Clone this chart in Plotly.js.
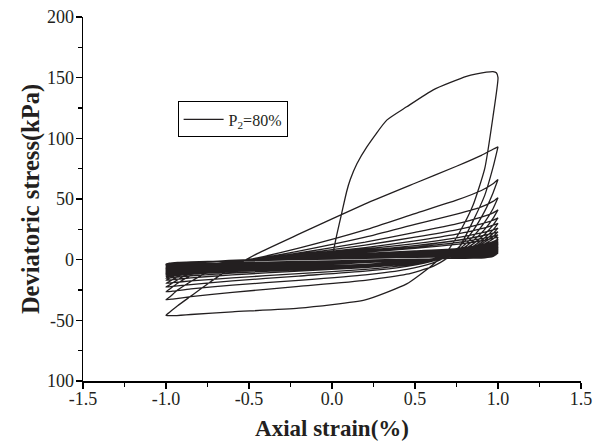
<!DOCTYPE html>
<html><head><meta charset="utf-8">
<script src="https://cdn.plot.ly/plotly-3.0.1.min.js"></script>
<style>html,body{margin:0;padding:0;background:#fff}#chart{width:600px;height:443px}</style>
</head><body><div id="chart"></div>
<script>
// Initial monotonic loading (strain %, stress kPa)
const initStrain = [0, 0.008, 0.028, 0.058, 0.088, 0.11, 0.15, 0.21, 0.33, 0.45, 0.61, 0.81, 0.93, 0.97, 0.99];
const initStress = [0, 6.6, 20, 38, 56, 66, 79, 93, 115, 126, 140, 151, 154.5, 155, 154];

// Strain points along each unloading (1 -> -1) and reloading (-1 -> 1) branch
const unloadStrain = [1.0, 0.97, 0.92, 0.85, 0.77, 0.7, 0.6, 0.45, 0.2, -0.2, -0.6, -0.85, -0.96, -1.0];
const reloadStrain = [-0.98, -0.93, -0.85, -0.75, -0.62, -0.45, -0.2, 0.2, 0.5, 0.75, 0.9, 0.97, 1.0];

// Stress on unloading branch, one row per cycle
const unloadStress = [
  [150, 118, 75, 45, 23, 8, -5, -20, -33.2, -40, -43, -45.2, -46.2, -45.8],
  [93, 76, 53, 32, 11, 1.5, -6, -12, -17, -22, -27, -30.5, -32.5, -33],
  [66, 55, 40, 24, 11, 3, -3, -8, -12.5, -17, -21, -24, -26, -26.5],
  [51, 42, 31, 19, 9, 3, -1.5, -5.5, -9.5, -13.5, -17.5, -20.5, -22, -22.5],
  [41, 34, 25, 15.5, 7.5, 2.5, -1, -4.5, -8, -11.5, -15, -17.5, -19, -19.5],
  [34.5, 28.5, 21, 13, 6.5, 2.5, -0.5, -3.5, -6.5, -9.5, -12.5, -15, -16.5, -17],
  [30, 24.5, 18, 11, 5.5, 2.5, 0, -2.8, -5.5, -8.3, -11, -13.3, -14.8, -15.3],
  [26, 21.5, 16, 10, 5, 2.5, 0.3, -2.2, -4.8, -7.3, -9.8, -12, -13.5, -14],
  [23, 19, 14.5, 9, 4.8, 2.4, 0.5, -1.8, -4.2, -6.5, -8.9, -11.1, -12.5, -13],
  [20.5, 17, 13, 8.3, 4.5, 2.3, 0.6, -1.5, -3.8, -6, -8.3, -10.4, -11.7, -12.2],
  [18.5, 10.6, 6.3, 3.6, 1.9, 1.0, 0.3, -0.7, -2.5, -5.3, -8.0, -9.8, -11.1, -11.5],
  [17, 9.8, 5.8, 3.4, 1.8, 1.0, 0.3, -0.7, -2.3, -5.0, -7.7, -9.4, -10.6, -11],
  [15.8, 9.1, 5.4, 3.2, 1.7, 1.0, 0.4, -0.6, -2.2, -4.8, -7.3, -8.9, -10.1, -10.5],
  [14.8, 8.6, 5.1, 3.1, 1.7, 1.0, 0.4, -0.5, -2.1, -4.5, -7.0, -8.5, -9.6, -10],
  [14, 7.5, 4.3, 2.3, 1.5, 1.0, 0.4, -0.5, -2.0, -4.3, -6.7, -8.2, -9.2, -9.6],
  [13.2, 7.1, 4.1, 2.2, 1.5, 1.0, 0.4, -0.4, -1.8, -4.1, -6.4, -7.8, -8.9, -9.2],
  [12.5, 6.8, 3.9, 2.2, 1.5, 1.0, 0.5, -0.4, -1.7, -3.9, -6.1, -7.5, -8.5, -8.8],
  [11.8, 6.4, 3.7, 2.1, 1.4, 1.0, 0.5, -0.3, -1.6, -3.7, -5.8, -7.1, -8.1, -8.4],
  [11.2, 6.1, 3.6, 2.0, 1.4, 1.0, 0.5, -0.3, -1.5, -3.6, -5.6, -6.9, -7.8, -8.1],
  [10.6, 5.8, 3.4, 2.0, 1.4, 1.0, 0.5, -0.2, -1.5, -3.4, -5.4, -6.6, -7.5, -7.8],
  [10.1, 5.1, 2.8, 1.7, 1.3, 1.0, 0.5, -0.2, -1.4, -3.3, -5.2, -6.4, -7.2, -7.5],
  [9.6, 4.9, 2.7, 1.7, 1.3, 1.0, 0.5, -0.1, -1.3, -3.1, -5.0, -6.1, -6.9, -7.2],
  [9.1, 4.6, 2.6, 1.6, 1.2, 1.0, 0.6, -0.1, -1.2, -3.0, -4.8, -5.9, -6.6, -6.9],
  [8.7, 4.5, 2.5, 1.6, 1.2, 1.0, 0.6, -0.1, -1.1, -2.8, -4.5, -5.6, -6.4, -6.6],
  [8.3, 4.3, 2.5, 1.6, 1.2, 1.0, 0.6, 0.0, -1.1, -2.7, -4.3, -5.4, -6.1, -6.3],
  [7.9, 4.1, 2.4, 1.6, 1.2, 1.0, 0.6, 0.0, -1.0, -2.5, -4.1, -5.1, -5.8, -6.0],
  [7.5, 3.9, 2.3, 1.5, 1.2, 1.0, 0.6, 0.1, -0.9, -2.4, -3.9, -4.9, -5.5, -5.7],
  [7.1, 3.4, 1.9, 1.4, 1.1, 1.0, 0.6, 0.1, -0.8, -2.2, -3.7, -4.6, -5.2, -5.4],
  [6.8, 3.3, 1.9, 1.3, 1.1, 1.0, 0.7, 0.1, -0.7, -2.1, -3.5, -4.3, -4.9, -5.1],
  [6.5, 3.2, 1.8, 1.3, 1.1, 1.0, 0.7, 0.2, -0.6, -2.0, -3.3, -4.1, -4.6, -4.8],
  [6.2, 3.1, 1.8, 1.3, 1.1, 1.0, 0.7, 0.2, -0.6, -1.8, -3.1, -3.8, -4.3, -4.5],
  [5.9, 3.0, 1.7, 1.3, 1.1, 1.0, 0.7, 0.3, -0.5, -1.7, -2.8, -3.6, -4.0, -4.2],
  [5.6, 2.8, 1.7, 1.3, 1.1, 1.0, 0.7, 0.3, -0.4, -1.6, -2.7, -3.4, -3.9, -4.0],
  [5.3, 2.7, 1.6, 1.3, 1.1, 1.0, 0.7, 0.3, -0.4, -1.5, -2.5, -3.2, -3.7, -3.8]
];

// Stress on reloading branch, one row per cycle
const reloadStress = [
  [-43.5, -38, -30, -20, -8, 5, 21, 46, 63, 77, 86, 91, 93],
  [-31, -25, -18, -10, -3, 1.5, 9.5, 24.5, 38, 49, 57, 62.5, 66],
  [-24.5, -19.5, -13, -7, -2, 1, 7, 18.5, 29, 37.5, 43.5, 48, 51],
  [-21, -16.5, -11, -6, -2, 0.5, 5.5, 14.5, 22.5, 29.5, 35, 38.5, 41],
  [-18, -14, -9.5, -5, -2, 0.5, 4.5, 12, 18.5, 24.5, 29.5, 32.5, 34.5],
  [-15.5, -12, -8, -4.5, -2, 0.3, 4, 10, 15.5, 21, 25.5, 28.5, 30],
  [-14, -10.8, -7.3, -4.2, -2, 0.2, 3.5, 8.8, 13.2, 18, 22, 24.5, 26],
  [-12.8, -10, -6.8, -4, -2, 0.1, 3, 7.8, 11.5, 15.8, 19.5, 21.8, 23],
  [-12, -9.3, -6.4, -3.8, -2, 0, 2.7, 7, 10.3, 14, 17.3, 19.4, 20.5],
  [-11.2, -8.8, -6, -3.7, -2, 0, 2.5, 6.3, 9.3, 12.6, 15.6, 17.5, 18.5],
  [-7.4, -4.2, -2.4, -1.7, -0.7, 0.5, 2.3, 5.2, 7.3, 9.1, 12.4, 14.9, 17],
  [-7.1, -4.1, -2.4, -1.7, -0.8, 0.3, 2.0, 4.7, 6.8, 8.5, 11.5, 13.8, 15.8],
  [-6.9, -4.0, -2.4, -1.8, -0.9, 0.2, 1.8, 4.4, 6.3, 7.9, 10.8, 12.9, 14.8],
  [-6.6, -3.9, -2.4, -1.8, -1.0, 0.1, 1.6, 4.1, 6.0, 7.5, 10.2, 12.2, 14],
  [-6.3, -3.7, -2.2, -1.6, -0.9, 0.1, 1.6, 3.9, 5.6, 7.1, 9.6, 11.5, 13.2],
  [-6.1, -3.6, -2.2, -1.6, -0.9, 0.0, 1.4, 3.6, 5.3, 6.7, 9.1, 10.9, 12.5],
  [-5.8, -3.5, -2.2, -1.7, -1.0, -0.1, 1.3, 3.4, 5.0, 6.3, 8.6, 10.3, 11.8],
  [-5.6, -3.4, -2.2, -1.7, -1.0, -0.2, 1.1, 3.2, 4.7, 6.0, 8.1, 9.8, 11.2],
  [-5.4, -3.4, -2.2, -1.7, -1.1, -0.2, 1.0, 3.0, 4.4, 5.7, 7.7, 9.3, 10.6],
  [-5.3, -3.3, -2.2, -1.7, -1.1, -0.3, 0.9, 2.8, 4.2, 5.4, 7.3, 8.8, 10.1],
  [-5.0, -3.1, -2.0, -1.6, -1.0, -0.2, 0.9, 2.7, 4.0, 5.1, 7.0, 8.4, 9.6],
  [-4.9, -3.0, -2.0, -1.6, -1.0, -0.3, 0.8, 2.5, 3.8, 4.9, 6.6, 8.0, 9.1],
  [-4.7, -3.0, -2.0, -1.6, -1.0, -0.3, 0.7, 2.4, 3.6, 4.6, 6.3, 7.6, 8.7],
  [-4.5, -2.9, -2.0, -1.6, -1.1, -0.4, 0.6, 2.2, 3.4, 4.4, 6.0, 7.3, 8.3],
  [-4.4, -2.9, -2.0, -1.6, -1.1, -0.5, 0.5, 2.1, 3.2, 4.2, 5.7, 6.9, 7.9],
  [-4.2, -2.8, -2.0, -1.6, -1.1, -0.5, 0.4, 1.9, 3.0, 4.0, 5.5, 6.6, 7.5],
  [-4.0, -2.7, -2.0, -1.6, -1.2, -0.6, 0.3, 1.8, 2.9, 3.8, 5.2, 6.2, 7.1],
  [-3.8, -2.5, -1.8, -1.5, -1.0, -0.5, 0.4, 1.7, 2.8, 3.6, 4.9, 5.9, 6.8],
  [-3.6, -2.5, -1.8, -1.5, -1.0, -0.5, 0.3, 1.6, 2.6, 3.4, 4.7, 5.7, 6.5],
  [-3.5, -2.4, -1.8, -1.5, -1.1, -0.5, 0.3, 1.5, 2.5, 3.3, 4.5, 5.4, 6.2],
  [-3.3, -2.3, -1.8, -1.5, -1.1, -0.6, 0.2, 1.4, 2.3, 3.1, 4.3, 5.2, 5.9],
  [-3.1, -2.3, -1.8, -1.5, -1.1, -0.6, 0.1, 1.3, 2.2, 3.0, 4.1, 4.9, 5.6],
  [-3.0, -2.2, -1.8, -1.5, -1.1, -0.7, 0.1, 1.2, 2.1, 2.8, 3.9, 4.6, 5.3],
  [-2.9, -2.2, -1.8, -1.5, -1.2, -0.7, 0.0, 1.1, 1.9, 2.6, 3.6, 4.4, 5.0]
];

const seriesName = 'P<sub>2</sub>=80%';
const xTickVals = [-1.5, -1.0, -0.5, 0.0, 0.5, 1.0, 1.5];
const xTickText = ['-1.5', '-1.0', '-0.5', '0.0', '0.5', '1.0', '1.5'];
const yTickVals = [-100, -50, 0, 50, 100, 150, 200];
const yTickText = ['100', '-50', '0', '50', '100', '150', '200'];

// Assemble one continuous path through the library
const xs = initStrain.slice();
const ys = initStress.slice();
for (let i = 0; i < unloadStress.length; i++) {
  xs.push(...unloadStrain); ys.push(...unloadStress[i]);
  xs.push(...reloadStrain); ys.push(...reloadStress[i]);
}

const serif = 'Liberation Serif, Times New Roman, serif';
const trace = {
  x: xs, y: ys, type: 'scatter', mode: 'lines', name: seriesName,
  line: {color: '#231f20', width: 1.3, shape: 'spline', smoothing: 0.5}
};

const axisCommon = {
  showgrid: false, zeroline: false, showline: true, linecolor: '#000', linewidth: 1.5,
  ticks: 'outside', ticklen: 6, tickwidth: 1.2, tickcolor: '#000',
  tickfont: {family: serif, size: 18, color: '#231f20'}, mirror: false
};

const layout = {
  width: 600, height: 443,
  margin: {l: 83, r: 19, t: 17, b: 62},
  paper_bgcolor: '#fff', plot_bgcolor: '#fff',
  showlegend: true,
  legend: {
    x: 0.19, y: 0.768, xanchor: 'left', yanchor: 'top',
    bordercolor: '#000', borderwidth: 1, bgcolor: '#fff',
    font: {family: serif, size: 16, color: '#231f20'},
    itemwidth: 40, tracegroupgap: 0
  },
  xaxis: Object.assign({}, axisCommon, {
    range: [-1.5, 1.5], tickmode: 'array', tickvals: xTickVals, ticktext: xTickText,
    ticklabelstandoff: -5,
    minor: {ticks: 'outside', ticklen: 4, tickwidth: 1.2, tickcolor: '#000', dtick: 0.25, showgrid: false},
    title: {text: 'Axial strain(%)', font: {family: serif, size: 23, color: '#231f20', weight: 'bold'}, standoff: 12}
  }),
  yaxis: Object.assign({}, axisCommon, {
    range: [-100, 200], tickmode: 'array', tickvals: yTickVals, ticktext: yTickText,
    ticklabelstandoff: -2,
    minor: {ticks: 'outside', ticklen: 4, tickwidth: 1.2, tickcolor: '#000', dtick: 25, showgrid: false},
    title: {text: 'Deviatoric stress(kPa)', font: {family: serif, size: 24.5, color: '#231f20', weight: 'bold'}, standoff: 0}
  })
};

function stretchLegendKey() {
  // lengthen the legend key line to the original's 40px sample
  document.querySelectorAll('g.legend g.legendlines path, g.legend path.js-line').forEach(function (p) {
    p.setAttribute('d', 'M5,0h40');
  });
}

const gd = document.getElementById('chart');
Plotly.newPlot(gd, [trace], layout, {displayModeBar: false, staticPlot: true}).then(function () {
  stretchLegendKey();
  setTimeout(stretchLegendKey, 50);
  setTimeout(stretchLegendKey, 300);
});
gd.on && gd.on('plotly_afterplot', stretchLegendKey);
</script>
</body></html>
